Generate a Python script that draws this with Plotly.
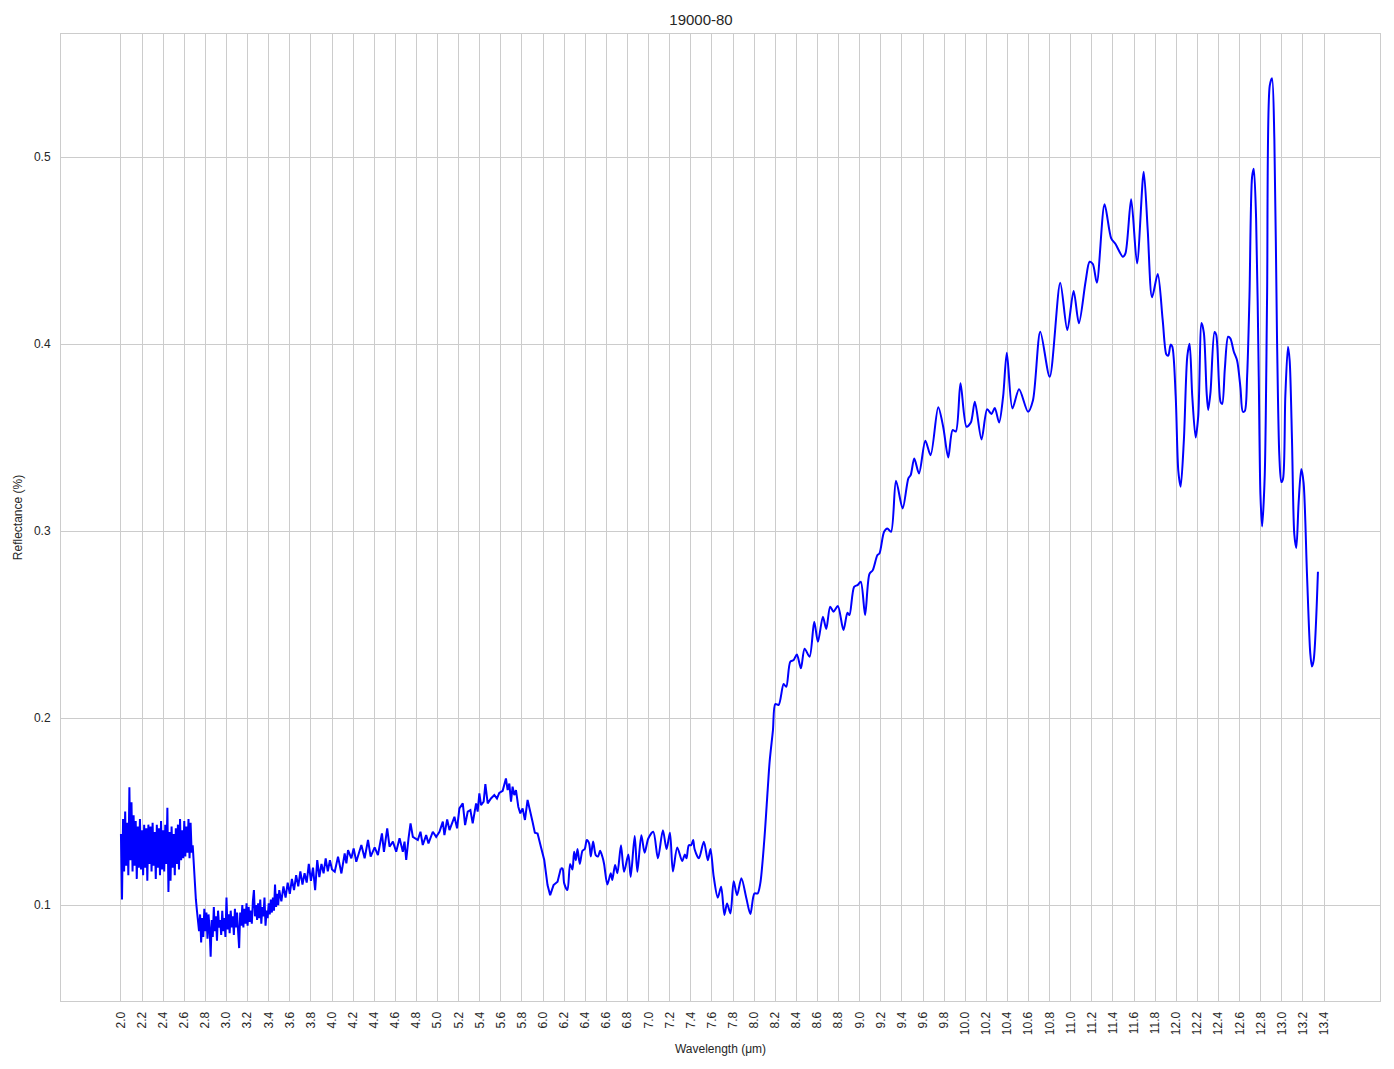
import numpy as np
import plotly.graph_objects as go

# ---- data ----
# dense noisy part, 2.00-3.50 um at 0.01 um steps
dense_x = list(np.round(np.arange(2.00, 3.505, 0.01), 2))
dense_y = [
    0.138, 0.103, 0.146, 0.118, 0.150, 0.121, 0.144, 0.116, 0.163, 0.124,
    0.155, 0.118, 0.148, 0.121, 0.145, 0.114, 0.142, 0.120, 0.146, 0.119,
    0.140, 0.116, 0.143, 0.120, 0.141, 0.113, 0.143, 0.122, 0.142, 0.118,
    0.144, 0.121, 0.139, 0.114, 0.143, 0.120, 0.141, 0.116, 0.145, 0.119,
    0.140, 0.118, 0.143, 0.122, 0.152, 0.107, 0.139, 0.113, 0.142, 0.120,
    0.138, 0.116, 0.141, 0.122, 0.143, 0.119, 0.146, 0.124, 0.140, 0.125,
    0.145, 0.126, 0.142, 0.128, 0.146, 0.125, 0.144, 0.128, 0.132, 0.120,
    0.110,
    0.103, 0.097, 0.092, 0.086, 0.095, 0.080, 0.093, 0.083, 0.098, 0.086,
    0.096, 0.082, 0.095, 0.087, 0.0724, 0.092, 0.083, 0.099, 0.086, 0.094,
    0.081, 0.097, 0.088, 0.092, 0.084, 0.097, 0.086, 0.093, 0.083, 0.104,
    0.087, 0.095, 0.085, 0.097, 0.088, 0.094, 0.084, 0.098, 0.088, 0.096,
    0.086, 0.077, 0.096, 0.089, 0.100, 0.088, 0.098, 0.090, 0.101, 0.089,
    0.099, 0.091, 0.097, 0.090, 0.102, 0.108, 0.094, 0.100, 0.092, 0.101,
    0.093, 0.103, 0.090, 0.099, 0.094, 0.104, 0.089, 0.097, 0.093, 0.101,
    0.095, 0.103, 0.096, 0.104, 0.097, 0.111, 0.099, 0.106, 0.100, 0.108,
]

# 3.52-4.00 um at 0.02 um steps
mid_x = list(np.round(np.arange(3.52, 4.005, 0.02), 2))
mid_y = [
    0.102, 0.110, 0.104, 0.112, 0.106, 0.114, 0.108, 0.116, 0.110, 0.118,
    0.111, 0.117, 0.112, 0.122, 0.113, 0.120, 0.108, 0.124, 0.115, 0.122,
    0.117, 0.125, 0.118, 0.124, 0.119,
]

# 4.0-6.17 um, irregular readings
rough_x = [
    4.026, 4.057, 4.089, 4.120, 4.136, 4.152, 4.183, 4.205, 4.230, 4.278,
    4.309, 4.341, 4.366, 4.404, 4.435, 4.473, 4.492, 4.523, 4.545, 4.577,
    4.608, 4.640, 4.671, 4.687, 4.703, 4.725, 4.744, 4.766, 4.813, 4.838,
    4.860, 4.892, 4.914, 4.955, 4.987, 5.018, 5.050, 5.065, 5.091, 5.113,
    5.160, 5.185, 5.207, 5.239, 5.261, 5.286, 5.311, 5.333, 5.365, 5.380,
    5.396, 5.412, 5.437, 5.453, 5.475, 5.506, 5.538, 5.563, 5.585, 5.617,
    5.633, 5.648, 5.664, 5.680, 5.696, 5.711, 5.727, 5.743, 5.765, 5.784,
    5.806, 5.828, 5.853, 5.885, 5.900, 5.922, 5.948, 5.979, 6.011, 6.042,
    6.067, 6.099, 6.137, 6.168,
]
rough_y = [
    0.1178, 0.1259, 0.1169, 0.1276, 0.1223, 0.1294, 0.1250, 0.1303, 0.1232, 0.1321,
    0.1250, 0.1348, 0.1259, 0.1308, 0.1267, 0.1383, 0.1285, 0.1410, 0.1312, 0.1339,
    0.1285, 0.1357, 0.1285, 0.1339, 0.1241, 0.1357, 0.1437, 0.1365, 0.1348, 0.1392,
    0.1321, 0.1374, 0.1330, 0.1392, 0.1365, 0.1392, 0.1446, 0.1374, 0.1458, 0.1401,
    0.1472, 0.1410, 0.1517, 0.1544, 0.1428, 0.1500, 0.1508, 0.1437, 0.1544, 0.1500,
    0.1597, 0.1535, 0.1553, 0.1647, 0.1544, 0.1570, 0.1588, 0.1570, 0.1600, 0.1611,
    0.1642, 0.1677, 0.1615, 0.1650, 0.1553, 0.1633, 0.1588, 0.1615, 0.1526, 0.1490,
    0.1517, 0.1455, 0.1562, 0.1490, 0.1446, 0.1387, 0.1383, 0.1312, 0.1241, 0.1107,
    0.1053, 0.1107, 0.1125, 0.1196,
]

# smooth part, 6.17-13.34 um
smooth_x = [
    6.168, 6.184, 6.200, 6.231, 6.256, 6.278, 6.294, 6.310, 6.326, 6.348,
    6.373, 6.395, 6.414, 6.436, 6.452, 6.474, 6.499, 6.521, 6.540, 6.562,
    6.578, 6.609, 6.641, 6.656, 6.682, 6.704, 6.738, 6.767, 6.808, 6.830,
    6.868, 6.893, 6.931, 6.962, 6.997, 7.044, 7.088, 7.135, 7.170, 7.202,
    7.230, 7.271, 7.318, 7.343, 7.359, 7.381, 7.403, 7.422, 7.435, 7.476,
    7.523, 7.561, 7.586, 7.617, 7.655, 7.687, 7.718, 7.743, 7.775, 7.806,
    7.838, 7.879, 7.926, 7.964, 8.002, 8.033, 8.058, 8.096, 8.128, 8.147,
    8.178, 8.200, 8.232, 8.279, 8.304, 8.342, 8.374, 8.405, 8.443, 8.478,
    8.525, 8.569, 8.604, 8.651, 8.683, 8.720, 8.752, 8.793, 8.846, 8.884,
    8.903, 8.947, 8.979, 9.010, 9.051, 9.092, 9.124, 9.168, 9.187, 9.231,
    9.262, 9.297, 9.344, 9.407, 9.461, 9.483, 9.517, 9.562, 9.622, 9.672,
    9.744, 9.791, 9.839, 9.880, 9.911, 9.955, 10.012, 10.053, 10.091, 10.154,
    10.208, 10.248, 10.280, 10.321, 10.359, 10.394, 10.447, 10.510, 10.595, 10.642,
    10.711, 10.800, 10.900, 10.967, 11.027, 11.077, 11.140, 11.178, 11.209, 11.247,
    11.320, 11.383, 11.424, 11.493, 11.518, 11.572, 11.628, 11.691, 11.729, 11.770,
    11.824, 11.871, 11.906, 11.924, 11.946, 11.962, 11.994, 12.019, 12.041, 12.072,
    12.104, 12.126, 12.151, 12.183, 12.208, 12.239, 12.261, 12.287, 12.302, 12.324,
    12.362, 12.378, 12.419, 12.435, 12.460, 12.491, 12.513, 12.545, 12.576, 12.608,
    12.630, 12.649, 12.671, 12.693, 12.718, 12.734, 12.756, 12.781, 12.797, 12.813,
    12.838, 12.860, 12.885, 12.907, 12.929, 12.954, 12.976, 12.995, 13.011, 13.033,
    13.058, 13.074, 13.096, 13.118, 13.137, 13.159, 13.184, 13.206, 13.238, 13.269,
    13.285, 13.301, 13.342,
]
smooth_y = [
    0.1196, 0.1196, 0.1116, 0.1080, 0.1220, 0.1190, 0.1285, 0.1240, 0.1300, 0.1220,
    0.1290, 0.1300, 0.1348, 0.1330, 0.1260, 0.1340, 0.1267, 0.1260, 0.1290, 0.1258,
    0.1220, 0.1110, 0.1170, 0.1134, 0.1214, 0.1170, 0.1320, 0.1178, 0.1270, 0.1150,
    0.1369, 0.1178, 0.1374, 0.1280, 0.1356, 0.1392, 0.1250, 0.1400, 0.1300, 0.1387,
    0.1180, 0.1308, 0.1235, 0.1270, 0.1250, 0.1320, 0.1320, 0.1348, 0.1300, 0.1250,
    0.1339, 0.1240, 0.1300, 0.1150, 0.1040, 0.1098, 0.0947, 0.1009, 0.0955, 0.1128,
    0.1053, 0.1143, 0.1036, 0.0952, 0.1062, 0.1062, 0.1116, 0.1348, 0.1615, 0.1770,
    0.1936, 0.2075, 0.2070, 0.2182, 0.2167, 0.2301, 0.2310, 0.2340, 0.2266, 0.2371,
    0.2328, 0.2515, 0.2408, 0.2542, 0.2476, 0.2595, 0.2569, 0.2599, 0.2471, 0.2563,
    0.2551, 0.2702, 0.2711, 0.2729, 0.2551, 0.2770, 0.2791, 0.2872, 0.2880, 0.2996,
    0.3014, 0.2996, 0.3269, 0.3121, 0.3282, 0.3299, 0.3388, 0.3308, 0.3483, 0.3406,
    0.3662, 0.3558, 0.3394, 0.3540, 0.3532, 0.3790, 0.3558, 0.3580, 0.3692, 0.3490,
    0.3651, 0.3626, 0.3658, 0.3580, 0.3720, 0.3954, 0.3656, 0.3758, 0.3638, 0.3700,
    0.4066, 0.3825, 0.4328, 0.4075, 0.4284, 0.4111, 0.4333, 0.4440, 0.4428, 0.4328,
    0.4747, 0.4565, 0.4535, 0.4467, 0.4485, 0.4774, 0.4431, 0.4922, 0.4610, 0.4250,
    0.4374, 0.4128, 0.3944, 0.3938, 0.3997, 0.3986, 0.3722, 0.3321, 0.3237, 0.3490,
    0.3934, 0.4001, 0.3722, 0.3500, 0.3617, 0.4113, 0.4060, 0.3743, 0.3648, 0.3743,
    0.4064, 0.4050, 0.3691, 0.3680, 0.3870, 0.4039, 0.4029, 0.3959, 0.3912, 0.3765,
    0.3638, 0.3642, 0.3828, 0.4250, 0.4894, 0.4937, 0.4673, 0.3828, 0.3194, 0.3025,
    0.3300, 0.4250, 0.5380, 0.5422, 0.5095, 0.4039, 0.3405, 0.3262, 0.3279, 0.3722,
    0.3986, 0.3912, 0.3490, 0.2983, 0.2909, 0.3152, 0.3332, 0.3258, 0.2772, 0.2349,
    0.2276, 0.2307, 0.2782,
]

x_tick_vals = [round(2.0 + 0.2 * i, 1) for i in range(58)]
x_tick_text = [f"{v:.1f}" for v in x_tick_vals]
y_tick_vals = [0.1, 0.2, 0.3, 0.4, 0.5]
y_tick_text = ["0.1", "0.2", "0.3", "0.4", "0.5"]

title_text = "19000-80"
x_label = "Wavelength (μm)"
y_label = "Reflectance (%)"

# ---- figure ----
line_style = dict(color="#0000ff", width=2)
fig = go.Figure()
fig.add_trace(go.Scatter(
    x=dense_x + mid_x + rough_x, y=dense_y + mid_y + rough_y,
    mode="lines", line=dict(**line_style, shape="linear"), showlegend=False,
))
fig.add_trace(go.Scatter(
    x=smooth_x, y=smooth_y,
    mode="lines", line=dict(**line_style, shape="spline", smoothing=0.8), showlegend=False,
))

font_family = "Liberation Sans, Arial, sans-serif"
grid_color = "#cccccc"
# the page body adds an 8px offset, so the figure is sized to compensate
W, H = 1386, 1061
fig.update_layout(
    width=W, height=H,
    margin=dict(l=53, r=14, t=26, b=68),
    paper_bgcolor="white", plot_bgcolor="white",
    font=dict(family=font_family, size=12, color="#262626"),
    title=dict(text=title_text, x=0.5, xanchor="center", y=1 - 12 / H, yanchor="middle",
               font=dict(size=15, color="#262626")),
)
fig.update_xaxes(
    range=[1.432, 13.93], tickmode="array", tickvals=x_tick_vals, ticktext=x_tick_text,
    tickangle=-90, showgrid=True, gridcolor=grid_color, gridwidth=1,
    showline=True, linecolor=grid_color, linewidth=1, mirror=True, zeroline=False,
    ticks="outside", ticklen=5, tickcolor="rgba(0,0,0,0)", automargin=False,
    tickfont=dict(size=12, color="#262626"),
    title=dict(text=x_label, font=dict(size=12), standoff=10),
)
fig.update_yaxes(
    range=[0.0487, 0.5658], tickmode="array", tickvals=y_tick_vals, ticktext=y_tick_text,
    showgrid=True, gridcolor=grid_color, gridwidth=1,
    showline=True, linecolor=grid_color, linewidth=1, mirror=True, zeroline=False,
    ticks="outside", ticklen=7, tickcolor="rgba(0,0,0,0)", automargin=False,
    tickfont=dict(size=12, color="#262626"),
    title=dict(text=y_label, font=dict(size=12), standoff=8),
)

fig.write_html("out.html")
